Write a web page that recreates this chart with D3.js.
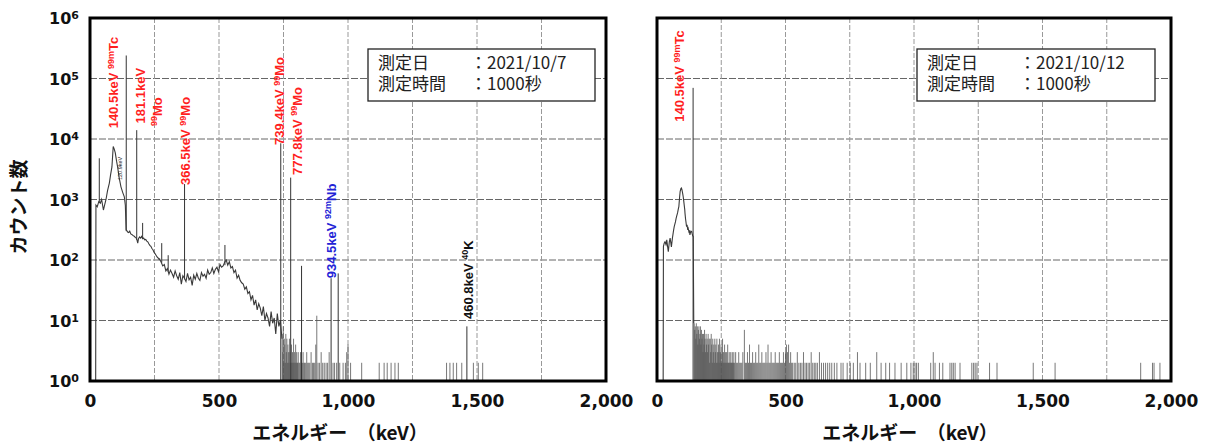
<!DOCTYPE html>
<html>
<head>
<meta charset="utf-8">
<script src="https://cdn.jsdelivr.net/npm/d3@7"></script>
<style>
  body { margin: 0; background: #fff; }
  svg { display: block; }
</style>
</head>
<body>
<div id="vis"></div>
<script>
// values
const xTicks = [0, 500, 1000, 1500, 2000];
const xGrid = [250, 500, 750, 1000, 1250, 1500, 1750];
const yExps = [0, 1, 2, 3, 4, 5, 6];

const infoKeys = ["測定日", "測定時間"];
const leftInfo = ["：2021/10/7", "：1000秒"];
const rightInfo = ["：2021/10/12", "：1000秒"];

// 2021/10/7 spectrum [keV, counts]
const leftCurve = [
  [22, 1], [23, 810], [28, 760], [34, 920], [40, 870], [45, 1000], [52, 670], [57, 820], [62, 1000],
  [68, 1400], [75, 1870], [80, 2600], [85, 3450], [90, 7500], [94, 6800], [98, 5900], [103, 4300],
  [107, 3450], [113, 2300], [120, 1620], [127, 1300], [133, 1110], [137, 800], [140, 315], [144, 300],
  [146, 290], [150, 285], [154, 300], [158, 270], [162, 265], [166, 255], [170, 250], [174, 240],
  [178, 235], [182, 215], [185, 190], [188, 225], [192, 240], [196, 230], [200, 245], [204, 225],
  [208, 230], [212, 215], [216, 218], [220, 205], [224, 200], [228, 185], [232, 175], [236, 168],
  [240, 155], [244, 148], [248, 135], [252, 128], [256, 120], [260, 112], [264, 108], [268, 102],
  [270, 104], [276, 92], [282, 80], [288, 84], [294, 66], [300, 72], [306, 58], [312, 68], [318, 60],
  [324, 52], [330, 66], [336, 55], [342, 48], [348, 62], [354, 40], [360, 55], [366, 50], [372, 44],
  [378, 60], [384, 47], [390, 52], [396, 38], [402, 56], [408, 48], [414, 60], [420, 50], [426, 46],
  [432, 62], [438, 54], [444, 58], [450, 50], [456, 68], [462, 58], [468, 62], [474, 74], [480, 60],
  [486, 70], [492, 76], [498, 64], [504, 84], [510, 76], [516, 80], [522, 92], [528, 100], [534, 82],
  [540, 94], [546, 74], [552, 78], [558, 62], [564, 68], [570, 50], [576, 56], [582, 46], [588, 42],
  [594, 40], [600, 33], [606, 36], [612, 28], [618, 30], [624, 22], [630, 26], [636, 18], [642, 22],
  [648, 15], [654, 19], [660, 16], [666, 12], [672, 17], [678, 10], [684, 13], [690, 11], [696, 8],
  [702, 14], [708, 9], [714, 11], [720, 6], [726, 13], [732, 8], [738, 10], [744, 5]
];
// [keV, base counts, top counts]
const leftPeaks = [
  [36, 900, 4800], [140.5, 300, 240000], [181.1, 215, 14000], [204, 225, 410], [278, 90, 190],
  [303, 64, 120], [366.5, 48, 1800], [523, 82, 177], [739.4, 1, 8500], [777.8, 1, 2300],
  [820, 1, 80], [934.5, 1, 50], [962, 1, 60], [1460.8, 1, 8]
];
const leftBars = [
  [745, 6], [747, 3], [749, 8], [751, 2], [753, 5], [755, 4], [757, 2], [759, 6], [761, 3], [763, 5],
  [765, 2], [767, 4], [769, 3], [771, 2], [773, 5], [775, 3], [779, 2], [781, 4], [783, 2], [785, 3],
  [787, 2], [789, 5], [791, 2], [793, 3], [795, 2], [797, 4], [799, 2], [801, 3], [803, 2], [805, 2],
  [807, 3], [810, 2], [813, 2], [816, 3], [819, 2], [823, 2], [826, 3], [829, 2], [832, 2], [836, 2],
  [840, 3], [844, 2], [848, 2], [852, 2], [857, 3], [862, 2], [866, 2], [871, 2], [875, 4], [879, 12],
  [884, 2], [890, 2], [896, 3], [902, 2], [908, 2], [915, 2], [921, 2], [927, 3], [942, 2], [948, 2],
  [956, 2], [968, 2], [981, 2], [990, 2], [995, 3], [1000, 4], [1010, 2], [1053, 2], [1121, 2],
  [1140, 2], [1152, 2], [1167, 2], [1182, 2], [1195, 2], [1382, 2], [1395, 2], [1408, 2], [1421, 2],
  [1441, 2], [1486, 2], [1505, 2], [1522, 2]
];

// 2021/10/12 spectrum
const rightCurve = [
  [24, 1], [25, 167], [28, 190], [31, 200], [35, 180], [38, 215], [41, 170], [44, 137], [48, 200],
  [51, 230], [54, 190], [56, 165], [60, 230], [64, 300], [67, 355], [70, 400], [72, 430], [74, 480],
  [76, 520], [80, 600], [83, 700], [85, 760], [88, 1100], [90, 1350], [93, 1520], [95, 1550],
  [97, 1450], [100, 1250], [102, 1110], [104, 950], [106, 800], [108, 680], [109, 590], [111, 480],
  [112, 450], [115, 355], [117, 380], [119, 330], [121, 340], [124, 295], [126, 310], [128, 260],
  [130, 280], [132, 300], [135, 295], [137, 270], [139, 250], [141, 245], [143, 9]
];
const rightPeaks = [[140.5, 1, 70000]];
const rightBars = [
  [145, 9], [147, 7], [149, 8], [151, 5], [153, 9], [155, 6], [157, 8], [159, 4], [161, 7], [163, 8],
  [165, 5], [167, 6], [169, 8], [171, 4], [173, 7], [175, 5], [177, 6], [179, 3], [181, 6], [183, 4],
  [185, 7], [187, 5], [189, 3], [191, 6], [193, 4], [195, 5], [197, 3], [199, 6], [201, 4], [203, 5],
  [205, 2], [207, 5], [209, 3], [211, 6], [213, 4], [215, 2], [217, 5], [219, 3], [221, 4], [223, 2],
  [225, 5], [227, 3], [229, 4], [231, 2], [233, 5], [235, 3], [237, 2], [239, 4], [241, 3], [243, 5],
  [245, 2], [247, 3], [249, 4], [251, 2], [253, 3], [255, 5], [257, 2], [259, 3], [261, 2], [263, 4],
  [265, 2], [267, 3], [269, 2], [271, 3], [273, 2], [275, 4], [277, 2], [279, 2], [281, 3], [283, 2],
  [285, 2], [287, 3], [289, 2], [291, 2], [293, 3], [295, 2], [297, 2], [299, 3], [302, 2], [306, 3],
  [310, 2], [314, 2], [318, 3], [322, 2], [326, 2], [330, 2], [334, 3], [340, 7], [344, 2], [348, 2],
  [352, 3], [356, 2], [360, 4], [364, 2], [368, 2], [372, 3], [376, 2], [380, 2], [384, 3], [388, 2],
  [392, 2], [396, 4], [400, 2], [404, 2], [408, 3], [412, 2], [416, 2], [420, 2], [424, 3], [428, 2],
  [432, 4], [436, 2], [440, 2], [444, 3], [448, 2], [452, 2], [456, 2], [460, 3], [464, 2], [468, 2],
  [472, 2], [476, 3], [480, 2], [484, 2], [488, 2], [492, 3], [496, 2], [500, 3], [504, 4], [508, 3],
  [512, 4], [516, 2], [520, 3], [524, 2], [528, 2], [534, 2], [540, 2], [546, 3], [552, 2], [558, 2],
  [564, 2], [570, 3], [576, 2], [582, 2], [588, 2], [594, 2], [600, 3], [606, 2], [612, 2], [618, 2],
  [624, 2], [632, 3], [640, 2], [648, 2], [656, 2], [664, 2], [672, 2], [680, 2], [690, 2], [700, 2],
  [716, 2], [724, 2], [740, 2], [752, 2], [764, 2], [780, 3], [790, 2], [812, 2], [830, 2], [855, 3],
  [872, 2], [890, 2], [905, 2], [926, 2], [950, 2], [972, 2], [988, 2], [997, 2], [1004, 2], [1010, 2],
  [1017, 2], [1065, 2], [1075, 3], [1082, 2], [1099, 2], [1112, 2], [1140, 2], [1147, 2], [1153, 2],
  [1160, 2], [1179, 2], [1225, 2], [1232, 2], [1238, 2], [1245, 2], [1294, 2], [1323, 2], [1464, 2],
  [1549, 2], [1882, 2], [1928, 2], [1934, 2], [1957, 2]
];

const red = "#ff1f1f", blue = "#2323d6";
// peak labels, anchored at [keV, counts] where the rotated text starts
const leftLabels = [
  { e: 110, c: 15000, main: "140.5keV ", sup: "99m", tail: "Tc", color: red },
  { e: 215, c: 18000, main: "181.1keV", sup: "", tail: "", color: red },
  { e: 279, c: 16400, main: "", sup: "99", tail: "Mo", color: red },
  { e: 388, c: 1740, main: "366.5keV ", sup: "99", tail: "Mo", color: red },
  { e: 752, c: 7950, main: "739.4keV ", sup: "99", tail: "Mo", color: red },
  { e: 820, c: 2540, main: "777.8keV ", sup: "99", tail: "Mo", color: red },
  { e: 952, c: 50, main: "934.5keV ", sup: "92m", tail: "Nb", color: blue },
  { e: 1484, c: 10.6, main: "460.8keV ", sup: "40", tail: "K", color: "#111" }
];
const rightLabels = [
  { e: 107, c: 19300, main: "140.5keV ", sup: "99m", tail: "Tc", color: red }
];

const width = 1207, height = 446;
const plotTop = 18, plotBottom = 381;

const svg = d3.select("#vis").append("svg")
  .attr("width", width)
  .attr("height", height)
  .attr("viewBox", [0, 0, width, height]);

const panels = [
  { x0: 90, x1: 606, curve: leftCurve, peaks: leftPeaks, bars: leftBars, labels: leftLabels,
    info: leftInfo, box: [368, 49, 227, 52], title: 340, yAxis: true },
  { x0: 657, x1: 1171, curve: rightCurve, peaks: rightPeaks, bars: rightBars, labels: rightLabels,
    info: rightInfo, box: [917, 49, 238, 52], title: 910, yAxis: false }
];

panels.forEach(p => {
  const x = d3.scaleLinear([0, 2000], [p.x0, p.x1]);
  const y = d3.scaleLog([1, 1e6], [plotBottom, plotTop]);
  const g = svg.append("g");

  // grid
  g.append("g")
    .attr("stroke", "#666")
    .attr("stroke-dasharray", "7,2")
    .selectAll("line")
    .data(yExps.slice(1, 6))
    .join("line")
      .attr("x1", p.x0).attr("x2", p.x1)
      .attr("y1", e => y(10 ** e)).attr("y2", e => y(10 ** e));

  g.append("g")
    .attr("stroke", "#999")
    .attr("stroke-dasharray", "5,2")
    .selectAll("line")
    .data(xGrid)
    .join("line")
      .attr("x1", d => x(d)).attr("x2", d => x(d))
      .attr("y1", plotTop).attr("y2", plotBottom);

  // spectrum
  g.append("g")
    .attr("stroke", "#555")
    .attr("stroke-width", 0.8)
    .selectAll("line")
    .data(p.bars)
    .join("line")
      .attr("x1", d => x(d[0])).attr("x2", d => x(d[0]))
      .attr("y1", y(1)).attr("y2", d => y(d[1]));

  g.append("g")
    .attr("stroke", "#333")
    .attr("stroke-width", 1)
    .selectAll("line")
    .data(p.peaks)
    .join("line")
      .attr("x1", d => x(d[0])).attr("x2", d => x(d[0]))
      .attr("y1", d => y(d[1])).attr("y2", d => y(d[2]));

  g.append("path")
    .datum(p.curve)
    .attr("fill", "none")
    .attr("stroke", "#3a3a3a")
    .attr("stroke-width", 1.1)
    .attr("d", d3.line(d => x(d[0]), d => y(Math.max(1, d[1]))));

  // frame
  g.append("rect")
    .attr("x", p.x0).attr("y", plotTop)
    .attr("width", p.x1 - p.x0).attr("height", plotBottom - plotTop)
    .attr("fill", "none")
    .attr("stroke", "#000")
    .attr("stroke-width", 3);

  // x axis
  g.append("g")
    .attr("transform", `translate(0,${plotBottom})`)
    .call(d3.axisBottom(x).tickValues(xTicks).tickSize(0).tickPadding(14).tickFormat(d3.format(",")))
    .call(a => a.select(".domain").remove())
    .selectAll("text")
      .attr("fill", "#111")
      .style("font", "bold 17px 'DejaVu Sans'");

  g.append("text")
    .attr("x", p.title)
    .attr("y", 440)
    .attr("text-anchor", "middle")
    .style("font", "bold 19px 'Noto Sans CJK JP'")
    .attr("fill", "#111")
    .text("エネルギー　（keV）");

  // y axis
  if (p.yAxis) {
    g.append("g")
      .attr("transform", `translate(${p.x0},0)`)
      .call(d3.axisLeft(y).tickValues(yExps.map(e => 10 ** e)).tickSize(0).tickPadding(11).tickFormat(() => ""))
      .call(a => a.select(".domain").remove())
      .selectAll(".tick text")
        .attr("fill", "#111")
        .attr("dy", "0.37em")
        .style("font", "bold 16px 'DejaVu Sans'")
        .each(function (v) {
          const t = d3.select(this);
          t.append("tspan").text("10");
          t.append("tspan")
            .attr("dy", "-0.45em")
            .style("font-size", "11px")
            .text(Math.round(Math.log10(v)));
        });

    g.append("text")
      .attr("transform", "translate(26,207) rotate(-90)")
      .attr("text-anchor", "middle")
      .style("font", "bold 19px 'Noto Sans CJK JP'")
      .attr("fill", "#111")
      .text("カウント数");
  }

  // peak labels
  const lab = g.append("g")
    .style("font", "bold 13px 'Liberation Sans'")
    .selectAll("text")
    .data(p.labels)
    .join("text")
      .attr("transform", d => `translate(${x(d.e)},${y(d.c)}) rotate(-90)`)
      .attr("fill", d => d.color);
  lab.append("tspan").text(d => d.main);
  lab.append("tspan").attr("dy", -4.5).style("font-size", "9px").text(d => d.sup);
  lab.append("tspan").attr("dy", 4.5).text(d => d.tail);

  if (p.yAxis) {
    g.append("text")
      .attr("transform", `translate(${x(124)},${y(2100)}) rotate(-90)`)
      .style("font", "5.5px 'Liberation Sans'")
      .attr("fill", "#222")
      .text("120.9keV");
  }

  // measurement info box: one text per column, one tspan per line
  const [bx, by, bw, bh] = p.box;
  g.append("rect")
    .attr("x", bx).attr("y", by).attr("width", bw).attr("height", bh)
    .attr("fill", "#fff")
    .attr("stroke", "#222")
    .attr("stroke-width", 1.3);
  const info = g.append("g")
    .style("font", "17px 'Noto Sans CJK JP'")
    .attr("fill", "#222");
  [[infoKeys, bx + 10], [p.info, bx + 102]].forEach(([lines, cx]) => {
    info.append("text")
      .attr("y", by + 20)
      .selectAll("tspan")
      .data(lines)
      .join("tspan")
        .attr("x", cx)
        .attr("dy", (d, i) => i ? 21 : 0)
        .text(d => d);
  });
});
</script>
</body>
</html>
